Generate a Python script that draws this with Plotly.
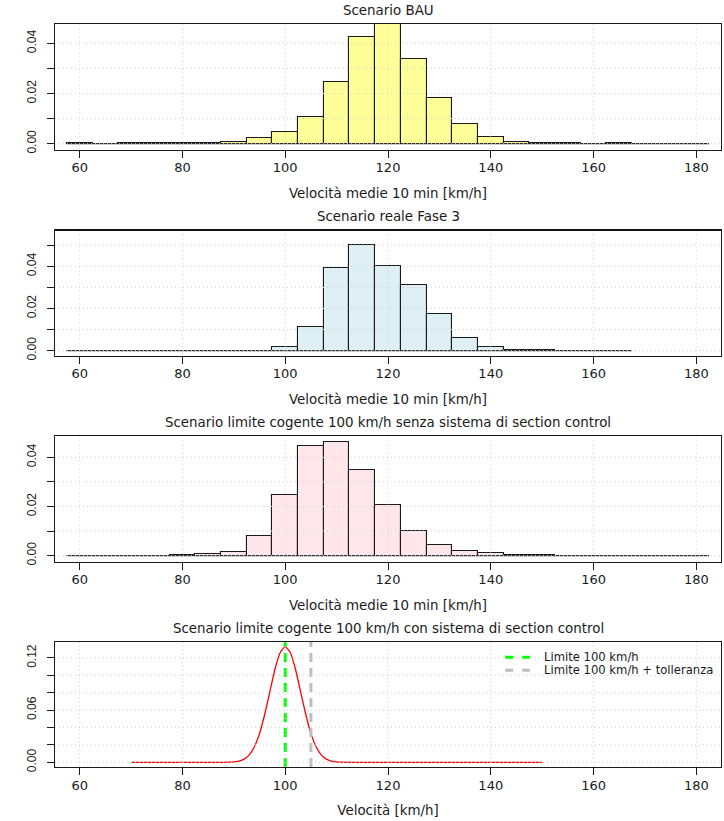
import plotly.graph_objects as go

FONT = "DejaVu Sans, Liberation Sans, Arial, sans-serif"
YFONT = "Liberation Sans, Arial, Helvetica, sans-serif"
FS_TITLE = 13.4
FS_TICK = 13
FS_YTICK = 12
FS_LEG = 11.6
INK = "#1a1a1a"

# ---------------- data ----------------
bin_width = 5

bau_centers = [60, 65, 70, 75, 80, 85, 90, 95, 100, 105, 110, 115, 120,
               125, 130, 135, 140, 145, 150, 155, 160, 165, 170, 175, 180]
bau_density = [0.0001, 0.0, 0.0004, 0.0003, 0.0004, 0.0004, 0.0008, 0.0022,
               0.0048, 0.0107, 0.0247, 0.0427, 0.0476, 0.0338, 0.0183, 0.0078,
               0.0026, 0.0005, 0.0001, 0.0001, 0.0, 0.0002, 0.0, 0.0, 0.0]

fase3_centers = [60, 65, 70, 75, 80, 85, 90, 95, 100, 105, 110, 115, 120,
                 125, 130, 135, 140, 145, 150, 155, 160, 165]
fase3_density = [0.0, 0.0, 0.0, 0.0, 0.0, 0.0, 0.0, 0.0, 0.0016, 0.0111,
                 0.0392, 0.0500, 0.0401, 0.0311, 0.0173, 0.0062, 0.0017,
                 0.0001, 0.0001, 0.0, 0.0, 0.0]

senza_centers = [60, 65, 70, 75, 80, 85, 90, 95, 100, 105, 110, 115, 120,
                 125, 130, 135, 140, 145, 150, 155, 160, 165, 170, 175, 180]
senza_density = [0.0, 0.0, 0.0, 0.0, 0.0003, 0.0007, 0.0016, 0.0081, 0.0246,
                 0.0445, 0.0463, 0.0350, 0.0207, 0.0101, 0.0044, 0.0018,
                 0.0011, 0.0003, 0.0003, 0.0, 0.0, 0.0, 0.0, 0.0, 0.0]

# density curve of the section-control scenario
curve_x = [70, 80, 87, 89, 90, 91, 92, 93, 94, 95, 96, 97, 98, 99, 100,
           101, 102, 103, 104, 105, 106, 107, 108, 109, 110, 111, 113, 120, 150]
curve_y = [0.0, 0.0, 0.0, 0.0002, 0.0005, 0.0015, 0.0038, 0.0087, 0.018,
           0.033, 0.055, 0.081, 0.107, 0.126, 0.133, 0.126, 0.107, 0.081,
           0.055, 0.033, 0.018, 0.0087, 0.0038, 0.0015, 0.0005, 0.0002,
           0.0, 0.0, 0.0]

limit_speed = 100
tolerance_speed = 105

x_ticks = [60, 80, 100, 120, 140, 160, 180]

titles = ["Scenario BAU",
          "Scenario reale Fase 3",
          "Scenario limite cogente 100 km/h senza sistema di section control",
          "Scenario limite cogente 100 km/h con sistema di section control"]
x_titles = ["Velocità medie 10 min [km/h]",
            "Velocità medie 10 min [km/h]",
            "Velocità medie 10 min [km/h]",
            "Velocità [km/h]"]
legend_labels = ["Limite 100 km/h", "Limite 100 km/h + tolleranza"]

y_tickvals = [[0, 0.01, 0.02, 0.03, 0.04],
              [0, 0.01, 0.02, 0.03, 0.04, 0.05],
              [0, 0.01, 0.02, 0.03, 0.04],
              [0, 0.02, 0.04, 0.06, 0.08, 0.10, 0.12]]
y_ticktext = [["0.00", "", "0.02", "", "0.04"],
              ["0.00", "", "0.02", "", "0.04", ""],
              ["0.00", "", "0.02", "", "0.04"],
              ["0.00", "", "", "0.06", "", "", "0.12"]]
y_ranges = [[-0.0023, 0.0477], [-0.0023, 0.0572],
            [-0.0024, 0.0487], [-0.0053, 0.1383]]
x_range = [55.2, 184.8]

fills = ["#FFFF99", "#DEEFF5", "#FFE6EA"]

# ---------------- layout geometry ----------------
W, H = 724, 821
ML, MR, MT, MB = 55, 3, 24, 54
plot_h = H - MT - MB
box_tops = [24, 230, 436, 642]
box_h = 125.5


def dom(top):
    y1 = 1 - (top - MT) / plot_h
    y0 = 1 - (top + box_h - MT) / plot_h
    return [max(0.0, y0), min(1.0, y1)]


fig = go.Figure()

hist_sets = [(bau_centers, bau_density), (fase3_centers, fase3_density),
             (senza_centers, senza_density)]

for i, (cx, dy) in enumerate(hist_sets):
    xa = "x" if i == 0 else f"x{i+1}"
    ya = "y" if i == 0 else f"y{i+1}"
    fig.add_trace(go.Bar(
        x=cx, y=dy, width=[bin_width] * len(cx),
        marker=dict(color=fills[i], line=dict(color=INK, width=1.1)),
        xaxis=xa, yaxis=ya, showlegend=False, hoverinfo="x+y"))
    # outline of the zero-height bins along the baseline
    fig.add_trace(go.Scatter(
        x=[cx[0] - bin_width / 2, cx[-1] + bin_width / 2], y=[0, 0],
        mode="lines", line=dict(color="#333333", width=1.2),
        xaxis=xa, yaxis=ya, showlegend=False, hoverinfo="skip"))

# panel 4
fig.add_trace(go.Scatter(
    x=curve_x, y=curve_y, mode="lines",
    line=dict(color="#FF0000", width=1.3, shape="spline", smoothing=0.5),
    xaxis="x4", yaxis="y4", showlegend=False))
fig.add_trace(go.Scatter(
    x=[limit_speed, limit_speed], y=y_ranges[3], mode="lines",
    line=dict(color="#00FF00", width=3, dash="9px,6px"),
    xaxis="x4", yaxis="y4", showlegend=False))
fig.add_trace(go.Scatter(
    x=[tolerance_speed, tolerance_speed], y=y_ranges[3], mode="lines",
    line=dict(color="#BEBEBE", width=3, dash="9px,6px"),
    xaxis="x4", yaxis="y4", showlegend=False))

layout = dict(
    width=W, height=H,
    margin=dict(l=ML, r=MR, t=MT, b=MB, pad=0),
    paper_bgcolor="white", plot_bgcolor="white",
    font=dict(family=FONT, size=FS_TICK, color=INK),
    bargap=0, showlegend=False,
)

annotations = []
shapes = []
GRID = dict(color="#CFCFCF", width=1, dash="1px,3px")
for i in range(4):
    sfx = "" if i == 0 else str(i + 1)
    layout[f"xaxis{sfx}"] = dict(
        domain=[0, 1], range=x_range, anchor=f"y{sfx}",
        tickvals=x_ticks, ticks="outside", ticklen=7, tickwidth=1,
        tickcolor=INK, showline=True, linecolor=INK, linewidth=1,
        mirror=True, showgrid=False, zeroline=False, layer="above traces",
        tickfont=dict(size=FS_TICK), ticklabelstandoff=-1,
        title=dict(text=x_titles[i], standoff=14, font=dict(size=FS_TITLE)),
    )
    layout[f"yaxis{sfx}"] = dict(
        domain=dom(box_tops[i]), range=y_ranges[i], anchor=f"x{sfx}",
        tickvals=y_tickvals[i], ticktext=y_ticktext[i], tickangle=-90,
        ticks="outside", ticklen=7, tickwidth=1, tickcolor=INK,
        showline=True, linecolor=INK, linewidth=1, mirror=True,
        showgrid=False, zeroline=False, layer="above traces",
        tickfont=dict(size=FS_YTICK, family=YFONT), ticklabelstandoff=6,
    )
    # dotted grid drawn over the bars, as in the reference
    for xv in x_ticks:
        shapes.append(dict(type="line", layer="above",
                           xref=f"x{sfx}", yref=f"y{sfx} domain",
                           x0=xv, x1=xv, y0=0, y1=1, line=GRID))
    for yv in y_tickvals[i]:
        shapes.append(dict(type="line", layer="above",
                           xref=f"x{sfx} domain", yref=f"y{sfx}",
                           x0=0, x1=1, y0=yv, y1=yv, line=GRID))
    annotations.append(dict(
        text=titles[i], xref=f"x{sfx} domain", yref=f"y{sfx} domain",
        x=0.5, y=1, yshift=14, xanchor="center", yanchor="middle",
        showarrow=False, font=dict(size=FS_TITLE, color=INK)))

# thicker top border on panel 2 (as in the reference)
shapes.append(dict(type="line", xref="x2 domain", yref="y2 domain",
                   x0=0, x1=1, y0=1, y1=1, line=dict(color="#111111", width=2)))

# legend of panel 4 (top-right, no box)
leg_colors = ["#00FF00", "#BEBEBE"]
leg_rows = [0.878, 0.775]
for lab, col, yy in zip(legend_labels, leg_colors, leg_rows):
    shapes.append(dict(type="line", xref="x4 domain", yref="y4 domain",
                       x0=0.676, x1=0.713, y0=yy, y1=yy,
                       line=dict(color=col, width=3, dash="8px,9px")))
    annotations.append(dict(
        text=lab, xref="x4 domain", yref="y4 domain", x=0.731, y=yy,
        xanchor="left", yanchor="middle", showarrow=False,
        font=dict(size=FS_LEG, color=INK)))

layout["annotations"] = annotations
layout["shapes"] = shapes
fig.update_layout(**layout)

fig.write_html(
    "out.html",
    config={"displayModeBar": False},
    post_script="document.body.style.margin='0';"
                "document.body.style.overflow='hidden';")
